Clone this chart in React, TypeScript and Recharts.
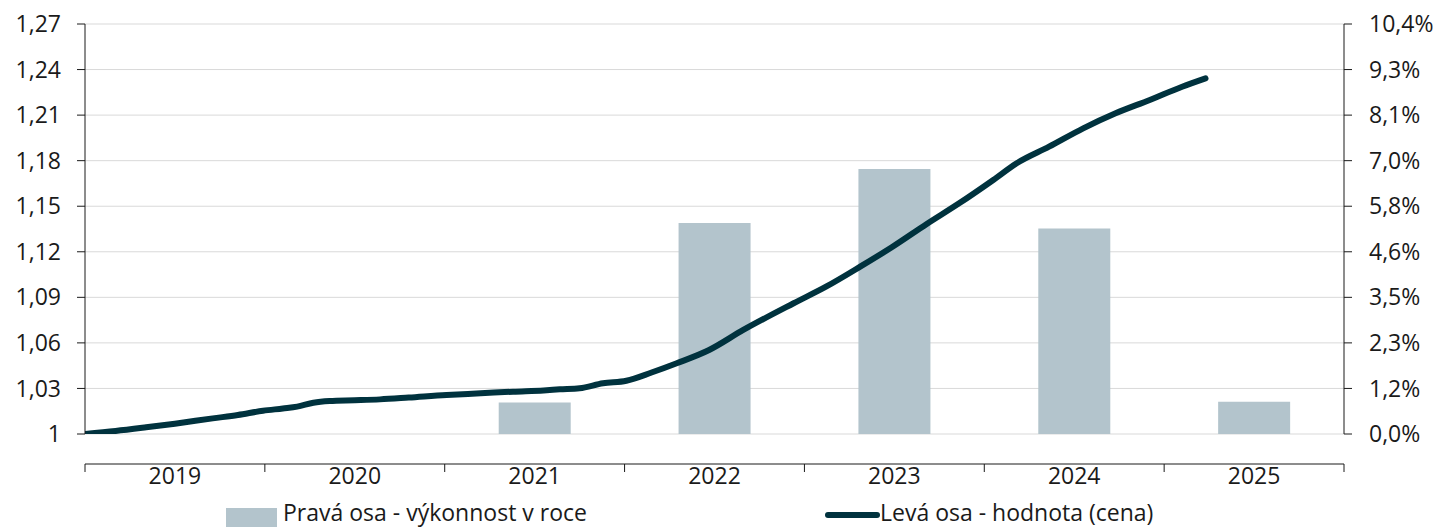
import {
  Bar,
  CartesianGrid,
  ComposedChart,
  Line,
  XAxis,
  YAxis,
} from "recharts";

// roky (kategorie sloupců) a roční výkonnost v % (pravá osa)
const years = ["2019", "2020", "2021", "2022", "2023", "2024", "2025"];
const yearPerf = [null, null, 0.8, 5.37, 6.75, 5.23, 0.82];

// hodnota (cena) – čas jako desetinný rok, levá osa
const lineT = [
  2019.0, 2019.17, 2019.34, 2019.5, 2019.71, 2019.85, 2019.99, 2020.1, 2020.18,
  2020.27, 2020.36, 2020.5, 2020.64, 2020.8, 2021.01, 2021.2, 2021.38, 2021.55,
  2021.64, 2021.75, 2021.88, 2022.01, 2022.15, 2022.29, 2022.47, 2022.66,
  2022.94, 2023.12, 2023.31, 2023.49, 2023.68, 2023.86, 2024.05, 2024.18,
  2024.36, 2024.55, 2024.73, 2024.92, 2025.1, 2025.23,
];
const lineV = [
  1.0, 1.002, 1.0044, 1.0068, 1.0103, 1.0125, 1.0153, 1.0168, 1.018, 1.0206,
  1.0217, 1.0222, 1.0228, 1.024, 1.0257, 1.0268, 1.0279, 1.0287, 1.0294,
  1.0301, 1.0334, 1.0351, 1.0405, 1.0466, 1.0553, 1.0685, 1.0861, 1.097,
  1.1102, 1.1233, 1.1383, 1.1519, 1.1673, 1.1783, 1.1892, 1.2013, 1.2112,
  1.22, 1.2287, 1.2342,
];

const leftTicks = [1, 1.03, 1.06, 1.09, 1.12, 1.15, 1.18, 1.21, 1.24, 1.27];
const rightTicks = [0, 1.16, 2.32, 3.48, 4.64, 5.8, 6.96, 8.12, 9.28, 10.44];
const yearBounds = [2019, 2020, 2021, 2022, 2023, 2024, 2025, 2026];

const barData = years.map((y, i) => ({ year: y, perf: yearPerf[i] }));
const lineData = lineT.map((t, i) => ({ t, v: lineV[i] }));

const FONT = "'Open Sans', sans-serif";
const TXT = "#1a1a1a";
const AXIS = "#1a1a1a";
const BAR = "#b3c4cc";
const LINE = "#00323e";

const fmtLeft = (v: number) => (v === 1 ? "1" : v.toFixed(2).replace(".", ","));
const fmtRight = (v: number) => `${v.toFixed(1).replace(".", ",")}%`;

// popisek roku uprostřed mezi dvěma značkami
function YearTick(props: any) {
  const { x, y, payload } = props;
  if (payload.value >= 2026) return null;
  const half = 1259 / 7 / 2;
  return (
    <text
      x={x + half}
      y={y}
      dy="0.32em"
      textAnchor="middle"
      fill={TXT}
      fontSize={23}
      fontFamily={FONT}
    >
      {String(payload.value)}
    </text>
  );
}

export default function App() {
  return (
    <div style={{ position: "absolute", left: 0, top: 0, width: 1443, height: 527 }}>
      <ComposedChart
        width={1443}
        height={527}
        data={barData}
        margin={{ top: 24, right: 0, bottom: 0, left: 0 }}
      >
        <CartesianGrid
          vertical={false}
          stroke="#d9d9d9"
          xAxisId="num"
          yAxisId="left"
        />
        <XAxis xAxisId="cat" dataKey="year" type="category" hide />
        <XAxis
          xAxisId="num"
          dataKey="t"
          type="number"
          domain={[2019, 2026]}
          ticks={yearBounds}
          allowDataOverflow
          height={93}
          tickSize={8}
          tickMargin={5}
          stroke={AXIS}
          tick={<YearTick />}
        />
        <YAxis
          yAxisId="left"
          orientation="left"
          width={85}
          domain={[1, 1.27]}
          ticks={leftTicks}
          allowDataOverflow
          tickFormatter={fmtLeft}
          tickSize={8}
          tickMargin={16}
          stroke={AXIS}
          tick={{ fill: TXT, fontSize: 23, fontFamily: FONT }}
        />
        <YAxis
          yAxisId="right"
          orientation="right"
          width={99}
          domain={[0, 10.44]}
          ticks={rightTicks}
          allowDataOverflow
          tickFormatter={fmtRight}
          tickSize={8}
          tickMargin={17}
          stroke={AXIS}
          tick={{ fill: TXT, fontSize: 23, fontFamily: FONT, textAnchor: "start" }}
        />
        <Bar
          xAxisId="cat"
          yAxisId="right"
          dataKey="perf"
          fill={BAR}
          barSize={72}
          isAnimationActive={false}
        />
        <Line
          xAxisId="num"
          yAxisId="left"
          data={lineData}
          dataKey="v"
          type="monotone"
          stroke={LINE}
          strokeWidth={6}
          strokeLinecap="round"
          strokeLinejoin="round"
          dot={false}
          isAnimationActive={false}
        />
      </ComposedChart>
      <svg
        width={1443}
        height={40}
        style={{ position: "absolute", left: 0, top: 491, overflow: "hidden" }}
      >
        <rect x={226} y={17} width={51} height={30} fill={BAR} />
        <text x={283} y={30} fill={TXT} fontSize={23} fontFamily={FONT}>
          Pravá osa - výkonnost v roce
        </text>
        <line
          x1={828}
          y1={24}
          x2={877}
          y2={24}
          stroke={LINE}
          strokeWidth={6}
          strokeLinecap="round"
        />
        <text x={880} y={30} fill={TXT} fontSize={23} fontFamily={FONT}>
          Levá osa - hodnota (cena)
        </text>
      </svg>
    </div>
  );
}
